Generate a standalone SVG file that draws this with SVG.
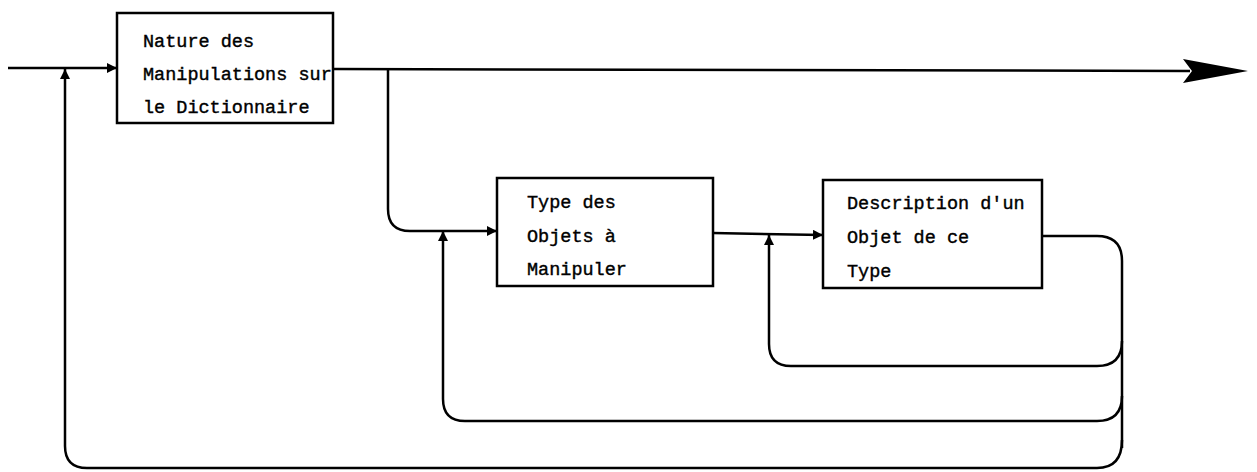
<svg xmlns="http://www.w3.org/2000/svg" width="1257" height="472" viewBox="0 0 1257 472">
<defs>
<marker id="ah" viewBox="0 0 10 10" refX="10" refY="5" markerWidth="10" markerHeight="10" markerUnits="userSpaceOnUse" orient="auto">
<path d="M0,0 L10,5 L0,10 z" fill="#000"/>
</marker>
</defs>
<style>
.box{fill:#fff;stroke:#000;stroke-width:2.5}
.t{font-family:"Liberation Mono","DejaVu Sans Mono",monospace;font-size:18.5px;fill:#000;stroke:#000;stroke-width:0.4}
.c{fill:none;stroke:#000;stroke-width:2.5}
</style>
<rect width="1257" height="472" fill="#fff"/>
<g id="connectors">
<path class="c" d="M8,68 L117,68" marker-end="url(#ah)"/>
<path class="c" d="M333,69 L1190,71"/>
<path d="M1248,71 L1183,59 L1192,71 L1183,83 z" fill="#000"/>
<path class="c" d="M388,70 L388,209 Q388,231 410,231 L497,231" marker-end="url(#ah)"/>
<path class="c" d="M713,233 L823,235" marker-end="url(#ah)"/>
<path class="c" d="M1042,236 L1097,236 Q1122,236 1122,261 L1122,448"/>
<path class="c" d="M1122,440 Q1122,468 1097,468 L87,468 Q65,468 65,446 L65,69" marker-end="url(#ah)"/>
<path class="c" d="M1122,396 Q1122,421 1097,421 L465,421 Q443,421 443,399 L443,231" marker-end="url(#ah)"/>
<path class="c" d="M1122,341 Q1122,366 1097,366 L791,366 Q769,366 769,344 L769,235" marker-end="url(#ah)"/>
</g>
<g id="node1">
<rect class="box" x="117" y="13" width="216" height="110"/>
<text class="t" x="143" y="47">Nature des</text>
<text class="t" x="143" y="80">Manipulations sur</text>
<text class="t" x="143" y="113">le Dictionnaire</text>
</g>
<g id="node2">
<rect class="box" x="497" y="178" width="216" height="108"/>
<text class="t" x="527" y="208">Type des</text>
<text class="t" x="527" y="242">Objets à</text>
<text class="t" x="527" y="275">Manipuler</text>
</g>
<g id="node3">
<rect class="box" x="823" y="180" width="219" height="108"/>
<text class="t" x="847" y="209">Description d'un</text>
<text class="t" x="847" y="243">Objet de ce</text>
<text class="t" x="847" y="277">Type</text>
</g>
</svg>
